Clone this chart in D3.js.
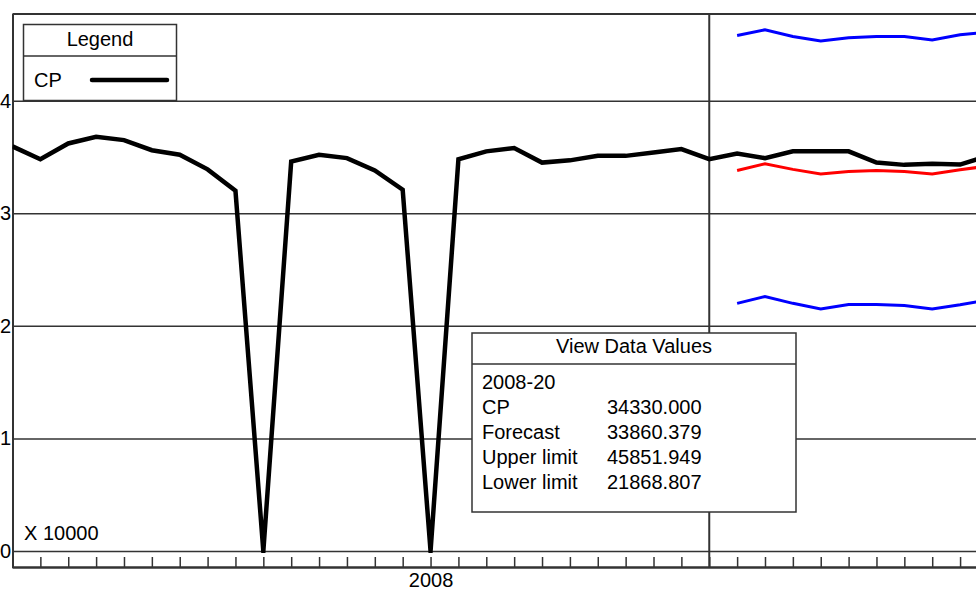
<!DOCTYPE html>
<html>
<head>
<meta charset="utf-8">
<script src="https://cdn.jsdelivr.net/npm/d3@7"></script>
<style>
  html, body { margin: 0; padding: 0; background: #fff; }
  svg { display: block; font-family: "Liberation Sans", Arial, sans-serif; }
</style>
</head>
<body>
<svg id="chart" width="976" height="590"></svg>
<script>
// ---- data ----
const weeks = [];
for (let w = 38; w <= 52; w++) weeks.push("2007-" + w);
for (let w = 1; w <= 21; w++) weeks.push("2008-" + (w < 10 ? "0" + w : w));
const cpValues = [35940, 34800, 36200, 36800, 36500, 35600, 35200, 33900, 32000, 0,
  34600, 35200, 34900, 33800, 32100, 0, 34800, 35500, 35800, 34500,
  34700, 35100, 35100, 35400, 35700, 34800, 35300, 34900, 35500, 35500,
  35500, 34500, 34300, 34400, 34330, 35100];
const forecastStart = 26;
const forecastValues = [33800, 34400, 33900, 33500, 33700, 33800, 33700, 33500, 33860.379, 34200];
const upperValues = [45800, 46300, 45700, 45300, 45600, 45700, 45700, 45400, 45851.949, 46100];
const lowerValues = [22000, 22600, 22000, 21500, 21900, 21900, 21800, 21500, 21868.807, 22300];
const yTicks = [0, 10000, 20000, 30000, 40000];
const xLabelTicks = { "2008-01": "2008" };
const tooltipTitle = "View Data Values";
const tooltipPeriod = "2008-20";
const tooltipRows = [["CP", "34330.000"], ["Forecast", "33860.379"], ["Upper limit", "45851.949"], ["Lower limit", "21868.807"]];

// ---- layout ----
const svg = d3.select("#chart");
const plotLeft = 12.5, plotTop = 14, zeroY = 551, axisY = 567, step = 27.87;
const x = d3.scaleLinear().domain([0, 35]).range([plotLeft, plotLeft + 35 * step]);
const y = d3.scaleLinear().domain([0, 40000]).range([zeroY, 100.7]);
const gridColor = "#333";

svg.append("defs").append("clipPath").attr("id", "plotclip")
  .append("rect").attr("x", plotLeft).attr("y", plotTop).attr("width", 976).attr("height", zeroY + 2 - plotTop);

// horizontal gridlines + y labels
const yAxis = d3.axisLeft(y).tickValues(yTicks).tickSize(-(976 - plotLeft)).tickPadding(1)
  .tickFormat(d => d / 10000);
const gy = svg.append("g").attr("transform", `translate(${plotLeft},0)`).call(yAxis);
gy.select(".domain").remove();
gy.selectAll(".tick line").attr("stroke", gridColor).attr("stroke-width", 1.5);
gy.selectAll(".tick text").attr("font-size", 20).attr("fill", "#000")
  .attr("font-family", "Liberation Sans, Arial, sans-serif").attr("x", -1.5);

// top frame + left frame
svg.append("line").attr("x1", plotLeft).attr("x2", 976).attr("y1", plotTop).attr("y2", plotTop)
  .attr("stroke", gridColor).attr("stroke-width", 2);
svg.append("line").attr("x1", plotLeft + 0.5).attr("x2", plotLeft + 0.5).attr("y1", plotTop).attr("y2", axisY + 1)
  .attr("stroke", gridColor).attr("stroke-width", 2);

// vertical separator (start of forecast)
svg.append("line").attr("x1", x(25)).attr("x2", x(25)).attr("y1", plotTop).attr("y2", axisY)
  .attr("stroke", gridColor).attr("stroke-width", 2);

// bottom axis
const xAxis = d3.axisBottom(x).tickValues(d3.range(0, 35)).tickSize(-10).tickPadding(6)
  .tickFormat(i => xLabelTicks[weeks[i]] || "");
const gx = svg.append("g").attr("transform", `translate(0,${axisY})`).call(xAxis);
gx.select(".domain").attr("d", `M${plotLeft},0.5H976`).attr("stroke", gridColor).attr("stroke-width", 2.5);
gx.selectAll(".tick line").attr("stroke", gridColor).attr("stroke-width", 1.5);
gx.selectAll(".tick text").attr("font-size", 20).attr("fill", "#000")
  .attr("font-family", "Liberation Sans, Arial, sans-serif");

// series lines
const line = d3.line().x(d => x(d.i)).y(d => y(d.v));
const cpData = cpValues.map((v, i) => ({ i, v }));
const fc = forecastValues.map((v, k) => ({ i: forecastStart + k, v }));
const up = upperValues.map((v, k) => ({ i: forecastStart + k, v }));
const lo = lowerValues.map((v, k) => ({ i: forecastStart + k, v }));

const series = svg.append("g").attr("clip-path", "url(#plotclip)");
series.append("path").datum(up).attr("d", line).attr("fill", "none").attr("stroke", "#0000ff").attr("stroke-width", 3);
series.append("path").datum(lo).attr("d", line).attr("fill", "none").attr("stroke", "#0000ff").attr("stroke-width", 3);
series.append("path").datum(fc).attr("d", line).attr("fill", "none").attr("stroke", "#ff0000").attr("stroke-width", 3);
series.append("path").datum(cpData).attr("d", line).attr("fill", "none").attr("stroke", "#000")
  .attr("stroke-width", 4.5).attr("stroke-linejoin", "miter").attr("stroke-miterlimit", 20);

// X 10000
svg.append("text").attr("x", 24).attr("y", 540).attr("font-size", 20).text("X 10000");

// legend
const lg = svg.append("g");
lg.append("rect").attr("x", 23.5).attr("y", 24.5).attr("width", 153).attr("height", 76)
  .attr("fill", "#fff").attr("stroke", gridColor).attr("stroke-width", 1.5);
lg.append("line").attr("x1", 23.5).attr("x2", 176.5).attr("y1", 56).attr("y2", 56)
  .attr("stroke", gridColor).attr("stroke-width", 1.5);
lg.append("text").attr("x", 100).attr("y", 46).attr("text-anchor", "middle").attr("font-size", 20).text("Legend");
lg.append("text").attr("x", 34).attr("y", 87).attr("font-size", 20).text("CP");
lg.append("line").attr("x1", 92).attr("x2", 167).attr("y1", 80).attr("y2", 80)
  .attr("stroke", "#000").attr("stroke-width", 4.5).attr("stroke-linecap", "round");

// tooltip box
const tt = svg.append("g");
tt.append("rect").attr("x", 472).attr("y", 333).attr("width", 324).attr("height", 179)
  .attr("fill", "#fff").attr("stroke", gridColor).attr("stroke-width", 1.5);
tt.append("line").attr("x1", 472).attr("x2", 796).attr("y1", 364).attr("y2", 364)
  .attr("stroke", gridColor).attr("stroke-width", 1.5);
tt.append("text").attr("x", 634).attr("y", 353).attr("text-anchor", "middle").attr("font-size", 20).text(tooltipTitle);
tt.append("text").attr("x", 482).attr("y", 389).attr("font-size", 20).text(tooltipPeriod);
tooltipRows.forEach((r, k) => {
  tt.append("text").attr("x", 482).attr("y", 414 + k * 25).attr("font-size", 20).text(r[0]);
  tt.append("text").attr("x", 607).attr("y", 414 + k * 25).attr("font-size", 20).text(r[1]);
});
</script>
</body>
</html>
